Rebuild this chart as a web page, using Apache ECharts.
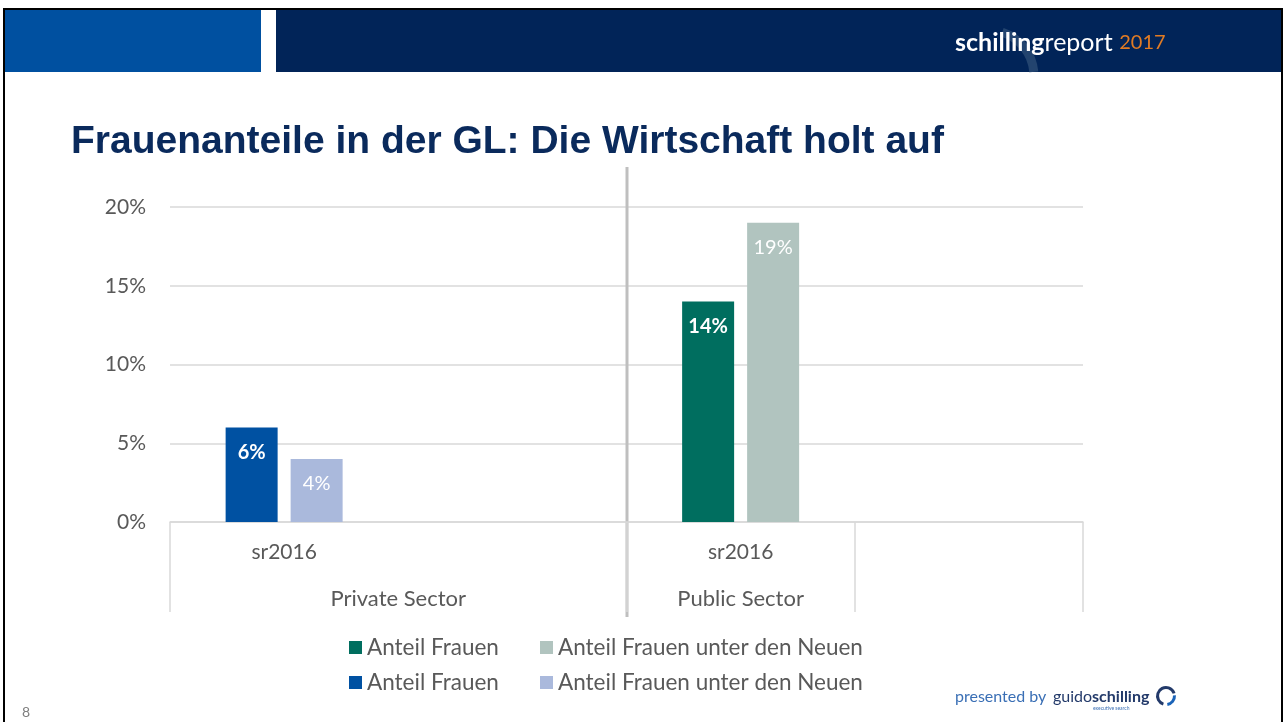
<!DOCTYPE html>
<html>
<head>
<meta charset="utf-8">
<title>Frauenanteile in der GL</title>
<script src="https://cdn.jsdelivr.net/npm/echarts@6/dist/echarts.min.js"></script>
<style>
  html, body { margin: 0; padding: 0; background: #fff; }
  #chart { width: 1285px; height: 722px; }
</style>
</head>
<body>
<div id="chart"></div>
<script>
  // Kategorien: innere Ebene (Jahr) und aeussere Ebene (Sektor)
  var years = ['sr2016', '', 'sr2016', ''];
  var sectorLabels = ['', '', 'Private Sector', '', '', 'Public Sector', '', '', ''];
  var sectorTicks = [0, 4, 6, 8];

  // Werte in Prozent
  var privAnteil = [6, '-', '-', '-'];
  var privNeue = [4, '-', '-', '-'];
  var publAnteil = ['-', '-', 14, '-'];
  var publNeue = ['-', '-', 19, '-'];

  var FONT = 'Lato';
  var GREY = '#595959';

  function pct(p) { return p.value + '%'; }

  function legendItem(name, left, top) {
    return {
      left: left,
      top: top,
      icon: 'rect',
      itemWidth: 13,
      itemHeight: 13,
      selectedMode: false,
      textStyle: { color: GREY, fontSize: 22.5, fontFamily: FONT },
      data: [name]
    };
  }

  var myChart = echarts.init(document.getElementById('chart'));

  var option = {
    backgroundColor: '#fff',
    animation: false,
    title: {
      text: 'Frauenanteile in der GL: Die Wirtschaft holt auf',
      left: 66,
      top: 118,
      textStyle: {
        color: '#0a2a5c',
        fontSize: 39,
        fontWeight: 'bold',
        fontFamily: 'Liberation Sans'
      }
    },
    legend: [
      legendItem('Anteil Frauen', 344, 631),
      legendItem('Anteil Frauen unter den Neuen', 535, 631),
      legendItem('Anteil Frauen ', 344, 666),
      legendItem('Anteil Frauen unter den Neuen ', 535, 666)
    ],
    grid: { left: 170, right: 202, top: 207, bottom: 200 },
    xAxis: [
      {
        type: 'category',
        data: years,
        axisLine: { lineStyle: { color: '#d9d9d9', width: 1.5 } },
        axisTick: { show: false },
        axisLabel: { color: GREY, fontSize: 21, fontFamily: FONT, margin: 20, interval: 0 }
      },
      {
        type: 'category',
        position: 'bottom',
        boundaryGap: false,
        data: sectorLabels,
        axisLine: { show: false },
        axisTick: {
          show: true,
          length: 90,
          interval: function (index) { return sectorTicks.indexOf(index) >= 0; },
          lineStyle: { color: '#d9d9d9', width: 1.5 }
        },
        axisLabel: { color: GREY, fontSize: 22, fontFamily: FONT, margin: 66, interval: 0 }
      }
    ],
    yAxis: {
      type: 'value',
      min: 0,
      max: 20,
      interval: 5,
      axisLine: { show: false },
      axisTick: { show: false },
      axisLabel: { formatter: '{value}%', color: GREY, fontSize: 21, fontFamily: FONT, margin: 24 },
      splitLine: { lineStyle: { color: '#d9d9d9', width: 1.5 } }
    },
    series: [
      {
        name: 'Anteil Frauen ',
        type: 'bar',
        stack: 'a',
        barWidth: 52,
        barGap: '25%',
        itemStyle: { color: '#0051a2' },
        label: { show: true, position: 'insideTop', distance: 15, formatter: pct,
          color: '#fff', fontSize: 20, fontWeight: 'bold', fontFamily: FONT },
        data: privAnteil
      },
      {
        name: 'Anteil Frauen unter den Neuen ',
        type: 'bar',
        stack: 'b',
        barWidth: 52,
        barGap: '25%',
        itemStyle: { color: '#aab9dc' },
        label: { show: true, position: 'insideTop', distance: 15, formatter: pct,
          color: '#fff', fontSize: 20, fontFamily: FONT },
        data: privNeue
      },
      {
        name: 'Anteil Frauen',
        type: 'bar',
        stack: 'a',
        barWidth: 52,
        barGap: '25%',
        itemStyle: { color: '#006e5f' },
        label: { show: true, position: 'insideTop', distance: 15, formatter: pct,
          color: '#fff', fontSize: 20, fontWeight: 'bold', fontFamily: FONT },
        data: publAnteil
      },
      {
        name: 'Anteil Frauen unter den Neuen',
        type: 'bar',
        stack: 'b',
        barWidth: 52,
        barGap: '25%',
        itemStyle: { color: '#b1c4bf' },
        label: { show: true, position: 'insideTop', distance: 15, formatter: pct,
          color: '#fff', fontSize: 20, fontFamily: FONT },
        data: publNeue
      }
    ]
  };

  myChart.setOption(option);

  // Trennlinie zwischen den Sektoren (Mitte zwischen Kategorie 1 und 2)
  var xa = myChart.convertToPixel({ xAxisIndex: 0 }, 1);
  var xb = myChart.convertToPixel({ xAxisIndex: 0 }, 2);
  var divX = Math.round((xa + xb) / 2);

  myChart.setOption({
    graphic: [
      // Kopfzeile
      { type: 'rect', shape: { x: 4, y: 10, width: 257, height: 62 }, style: { fill: '#0050a0' } },
      { type: 'rect', shape: { x: 276, y: 10, width: 1006, height: 62 }, style: { fill: '#012458' } },
      { type: 'arc', shape: { cx: 988, cy: 76, r: 46, startAngle: -Math.PI * 0.4, endAngle: -0.09 },
        style: { stroke: '#23446f', lineWidth: 9, fill: null } },
      { type: 'text', x: 955, y: 43, style: {
          text: '{b|schilling}{r|report}  {o|2017}',
          verticalAlign: 'middle',
          rich: {
            b: { fill: '#fff', fontSize: 25, fontWeight: 'bold', fontFamily: FONT },
            r: { fill: '#fff', fontSize: 25, fontFamily: FONT },
            o: { fill: '#e07b24', fontSize: 20, fontFamily: FONT }
          }
        } },
      // Rahmen
      { type: 'line', shape: { x1: 3, y1: 9, x2: 1283, y2: 9 }, style: { stroke: '#000', lineWidth: 2 } },
      { type: 'line', shape: { x1: 4, y1: 9, x2: 4, y2: 722 }, style: { stroke: '#000', lineWidth: 2 } },
      { type: 'line', shape: { x1: 1282, y1: 9, x2: 1282, y2: 722 }, style: { stroke: '#000', lineWidth: 2 } },
      // Trennlinie
      { type: 'line', shape: { x1: divX, y1: 167, x2: divX, y2: 617 }, style: { stroke: '#bfbfbf', lineWidth: 3 } },
      // Fusszeile
      { type: 'text', x: 22, y: 712, style: { text: '8', fill: '#7f7f7f', fontSize: 14, fontFamily: FONT, verticalAlign: 'middle' } },
      { type: 'text', x: 955, y: 697, style: {
          text: '{p|presented by}  {g|guido}{s|schilling}',
          verticalAlign: 'middle',
          rich: {
            p: { fill: '#3a6fb5', fontSize: 16, fontFamily: FONT },
            g: { fill: '#233a6a', fontSize: 16, fontFamily: FONT },
            s: { fill: '#233a6a', fontSize: 16, fontWeight: 'bold', fontFamily: FONT }
          }
        } },
      { type: 'text', x: 1093, y: 708, style: { text: 'executive search', fill: '#3a6fb5', fontSize: 5, fontFamily: FONT, verticalAlign: 'middle' } },
      { type: 'arc', shape: { cx: 1166, cy: 696, r: 8.5, startAngle: Math.PI * 0.6, endAngle: Math.PI * 1.9 },
        style: { stroke: '#233a6a', lineWidth: 3, fill: null } },
      { type: 'arc', shape: { cx: 1166, cy: 696, r: 8.5, startAngle: -Math.PI * 0.02, endAngle: Math.PI * 0.45 },
        style: { stroke: '#1a63b8', lineWidth: 3, fill: null } }
    ]
  });

  window.onresize = function () {
    myChart.resize();
  };
</script>
</body>
</html>
